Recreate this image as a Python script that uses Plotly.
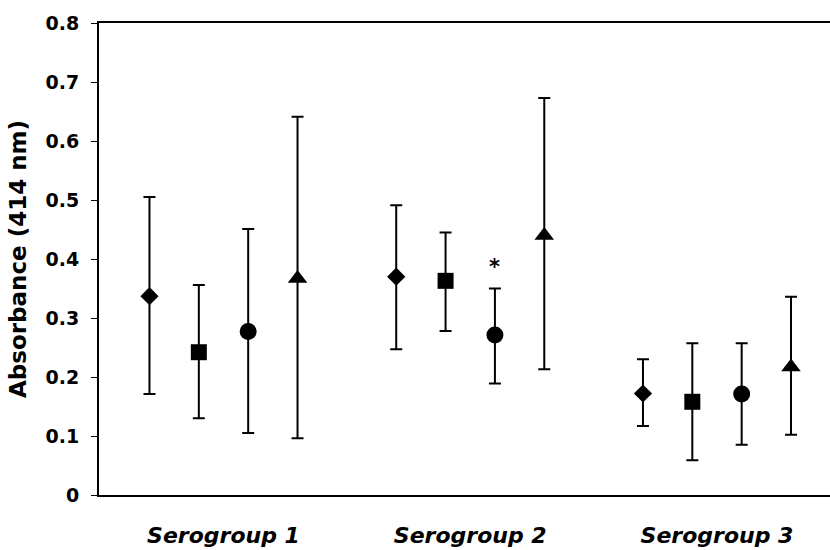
import plotly.graph_objects as go

groups = ["Serogroup 1", "Serogroup 2", "Serogroup 3"]
group_pos = [1, 2, 3]
series_names = ["Series 1", "Series 2", "Series 3", "Series 4"]
series_symbols = ["diamond", "square", "circle", "triangle-up"]
series_sizes = [14, 16, 17, 17]
series_offsets = [-0.3, -0.1, 0.1, 0.3]

means = [
    [0.337, 0.370, 0.172],   # diamond
    [0.242, 0.363, 0.158],   # square
    [0.277, 0.271, 0.171],   # circle
    [0.367, 0.440, 0.217],   # triangle
]
upper = [
    [0.505, 0.491, 0.230],
    [0.356, 0.445, 0.257],
    [0.451, 0.350, 0.257],
    [0.641, 0.673, 0.336],
]
lower = [
    [0.171, 0.247, 0.117],
    [0.130, 0.278, 0.059],
    [0.105, 0.189, 0.085],
    [0.096, 0.213, 0.102],
]

y_ticks = [0, 0.1, 0.2, 0.3, 0.4, 0.5, 0.6, 0.7, 0.8]
y_ticktext = ["0", "0.1", "0.2", "0.3", "0.4", "0.5", "0.6", "0.7", "0.8"]

star_group = 2
star_series = 2
star_y = 0.386

FONT = "DejaVu Sans"

fig = go.Figure()
for i in range(4):
    xs = [g + series_offsets[i] for g in group_pos]
    fig.add_trace(go.Scatter(
        x=xs, y=means[i], mode="markers", name=series_names[i],
        marker=dict(symbol=series_symbols[i], size=series_sizes[i], color="black",
                    line=dict(width=0)),
        error_y=dict(type="data", symmetric=False,
                     array=[u - m for u, m in zip(upper[i], means[i])],
                     arrayminus=[m - l for m, l in zip(means[i], lower[i])],
                     color="black", thickness=2, width=6),
        showlegend=False,
    ))

fig.add_annotation(x=star_group + series_offsets[star_series], y=star_y, text="<b>*</b>",
                   showarrow=False, font=dict(family=FONT, size=21, color="black"))

fig.update_layout(
    width=830, height=550,
    margin=dict(l=99, r=0, t=23, b=55),
    paper_bgcolor="white", plot_bgcolor="white",
    font=dict(family=FONT, color="black"),
    xaxis=dict(range=[0.4954, 3.458], tickvals=group_pos,
               ticktext=["<b><i>%s</i></b>" % g for g in groups],
               tickfont=dict(family=FONT, size=22, color="black"),
               showline=True, linecolor="black", linewidth=2, mirror=True,
               ticks="", showgrid=False, zeroline=False, ticklabelstandoff=20),
    yaxis=dict(range=[0, 0.8], tickvals=y_ticks, ticktext=["<b>%s</b>" % t for t in y_ticktext],
               tickfont=dict(family=FONT, size=19, color="black"),
               showline=True, linecolor="black", linewidth=2, mirror=False,
               ticks="outside", ticklen=6, tickwidth=1, tickcolor="black",
               showgrid=False, zeroline=False, ticklabelstandoff=8,
               title=dict(text="<b>Absorbance (414 nm)</b>",
                          font=dict(family=FONT, size=23, color="black"), standoff=12)),
)

fig.write_html("out.html")
